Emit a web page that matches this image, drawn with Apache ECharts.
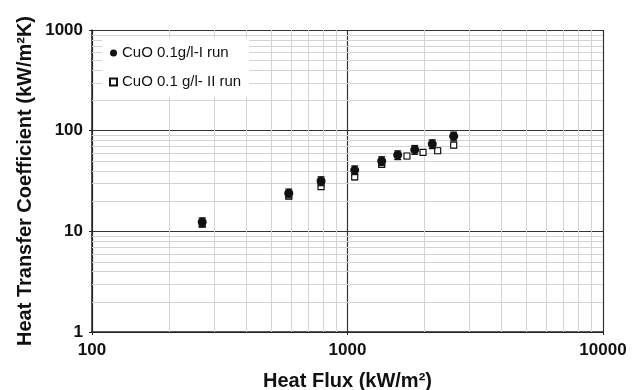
<!DOCTYPE html>
<html>
<head>
<meta charset="utf-8">
<script src="https://cdn.jsdelivr.net/npm/echarts@6/dist/echarts.min.js"></script>
<style>
html,body{margin:0;padding:0;background:#fff;}
#chart{width:641px;height:390px;}
</style>
</head>
<body>
<div id="chart"></div>
<script>
// Series I (filled circles)
const run1Flux = [270, 589, 788, 1067, 1361, 1572, 1833, 2147, 2604];
const run1HTC  = [12.4, 23.9, 31.6, 40.6, 50.0, 57.3, 64.7, 73.7, 88.0];
const run1Err  = [1.2, 2.4, 3.2, 4.0, 5.0, 5.7, 6.5, 7.4, 8.8];
// Series II (open squares)
const run2Flux = [270, 589, 788, 1067, 1361, 1709, 1975, 2254, 2604];
const run2HTC  = [11.8, 22.4, 27.8, 34.7, 46.3, 56.0, 61.0, 63.2, 72.0];
const run2Err  = [0.7, 1.3, 1.7, 2.1, 2.8, 3.4, 3.7, 3.8, 4.3];
const seriesNames = ['CuO 0.1g/l-I run', 'CuO 0.1 g/l- II run'];
// minor grid positions (log axes)
const xMinorTicks = [200, 300, 400, 500, 600, 700, 800, 900, 2000, 3000, 4000, 5000, 6000, 7000, 8000, 9000];
const yMinorTicks = [2, 3, 4, 5, 6, 7, 8, 9, 20, 30, 40, 50, 60, 70, 80, 90, 200, 300, 400, 500, 600, 700, 800, 900];

const FONT = '"Liberation Sans", Arial, Helvetica, sans-serif';
const X_MIN = 100, X_MAX = 10000, Y_MIN = 1, Y_MAX = 1000;

function pairs(xs, ys) { return xs.map((x, i) => [x, ys[i]]); }
function errData(xs, ys, es) { return xs.map((x, i) => [x, ys[i] - es[i], ys[i] + es[i]]); }

function errorBarRender(capHalf) {
  return function (params, api) {
    const x = api.value(0);
    const lo = api.coord([x, api.value(1)]);
    const hi = api.coord([x, api.value(2)]);
    const style = { stroke: '#111', lineWidth: 1.2, fill: null };
    return {
      type: 'group',
      children: [
        { type: 'line', shape: { x1: lo[0], y1: lo[1], x2: hi[0], y2: hi[1] }, style: style },
        { type: 'line', shape: { x1: lo[0] - capHalf, y1: lo[1], x2: lo[0] + capHalf, y2: lo[1] }, style: style },
        { type: 'line', shape: { x1: hi[0] - capHalf, y1: hi[1], x2: hi[0] + capHalf, y2: hi[1] }, style: style }
      ]
    };
  };
}

const minorStyle = { stroke: '#d3d3d3', lineWidth: 1 };
function vGridRender(params, api) {
  const cs = params.coordSys;
  const p = api.coord([api.value(0), api.value(1)]);
  const x = Math.round(p[0]) + 0.5;
  return { type: 'line', silent: true, shape: { x1: x, y1: cs.y, x2: x, y2: cs.y + cs.height }, style: minorStyle };
}
function hGridRender(params, api) {
  const cs = params.coordSys;
  const p = api.coord([api.value(0), api.value(1)]);
  const y = Math.round(p[1]) + 0.5;
  return { type: 'line', silent: true, shape: { x1: cs.x, y1: y, x2: cs.x + cs.width, y2: y }, style: minorStyle };
}

const chart = echarts.init(document.getElementById('chart'), null, { renderer: 'canvas' });

const axisCommon = {
  type: 'log',
  logBase: 10,
  axisLine: { show: true, onZero: false, lineStyle: { color: '#222', width: 1.5 } },
  axisTick: { show: true, length: 3, lineStyle: { color: '#222', width: 1 } },
  minorTick: { show: false },
  splitLine: { show: true, lineStyle: { color: '#333', width: 1.2 } },
  minorSplitLine: { show: false },
  axisLabel: {
    fontFamily: FONT, fontWeight: 'bold', fontSize: 17, color: '#111',
    formatter: v => String(Math.round(v))
  },
  nameLocation: 'middle',
  nameMoveOverlap: false,
  nameTextStyle: { fontFamily: FONT, fontWeight: 'bold', fontSize: 20, color: '#111' }
};

chart.setOption({
  animation: false,
  backgroundColor: '#fff',
  grid: { left: 92, right: 38, top: 30, bottom: 58, containLabel: false, outerBoundsMode: 'none' },
  xAxis: Object.assign({}, axisCommon, {
    min: X_MIN, max: X_MAX,
    name: 'Heat Flux (kW/m²)',
    nameGap: 39,
    axisLabel: Object.assign({}, axisCommon.axisLabel, { margin: 10 })
  }),
  yAxis: Object.assign({}, axisCommon, {
    min: Y_MIN, max: Y_MAX,
    name: 'Heat Transfer Coefficient (kW/m²K)',
    nameGap: 57,
    axisLabel: Object.assign({}, axisCommon.axisLabel, { margin: 9, padding: [3, 0, 0, 0] })
  }),
  legend: {
    data: seriesNames,
    orient: 'vertical',
    left: 102, top: 38,
    padding: [7, 8, 7, 7],
    backgroundColor: '#fff',
    itemWidth: 7, itemHeight: 7,
    itemGap: 13,
    textStyle: { fontFamily: FONT, fontSize: 15, color: '#111', lineHeight: 16 }
  },
  series: [
    {
      type: 'custom', name: 'xMinorGrid', renderItem: vGridRender,
      data: xMinorTicks.map(v => [v, Y_MIN]), z: 1, silent: true
    },
    {
      type: 'custom', name: 'yMinorGrid', renderItem: hGridRender,
      data: yMinorTicks.map(v => [X_MIN, v]), z: 1, silent: true
    },
    {
      type: 'custom', name: 'err2', renderItem: errorBarRender(3),
      data: errData(run2Flux, run2HTC, run2Err), z: 2, silent: true
    },
    {
      type: 'scatter', name: seriesNames[1],
      data: pairs(run2Flux, run2HTC),
      symbol: 'rect', symbolSize: 6,
      itemStyle: { color: '#fff', borderColor: '#111', borderWidth: 1.2, opacity: 1 },
      z: 3
    },
    {
      type: 'custom', name: 'err1', renderItem: errorBarRender(3.5),
      data: errData(run1Flux, run1HTC, run1Err), z: 4, silent: true
    },
    {
      type: 'scatter', name: seriesNames[0],
      data: pairs(run1Flux, run1HTC),
      symbol: 'circle', symbolSize: 9,
      itemStyle: { color: '#111', opacity: 1 },
      z: 5
    }
  ]
});
</script>
</body>
</html>
